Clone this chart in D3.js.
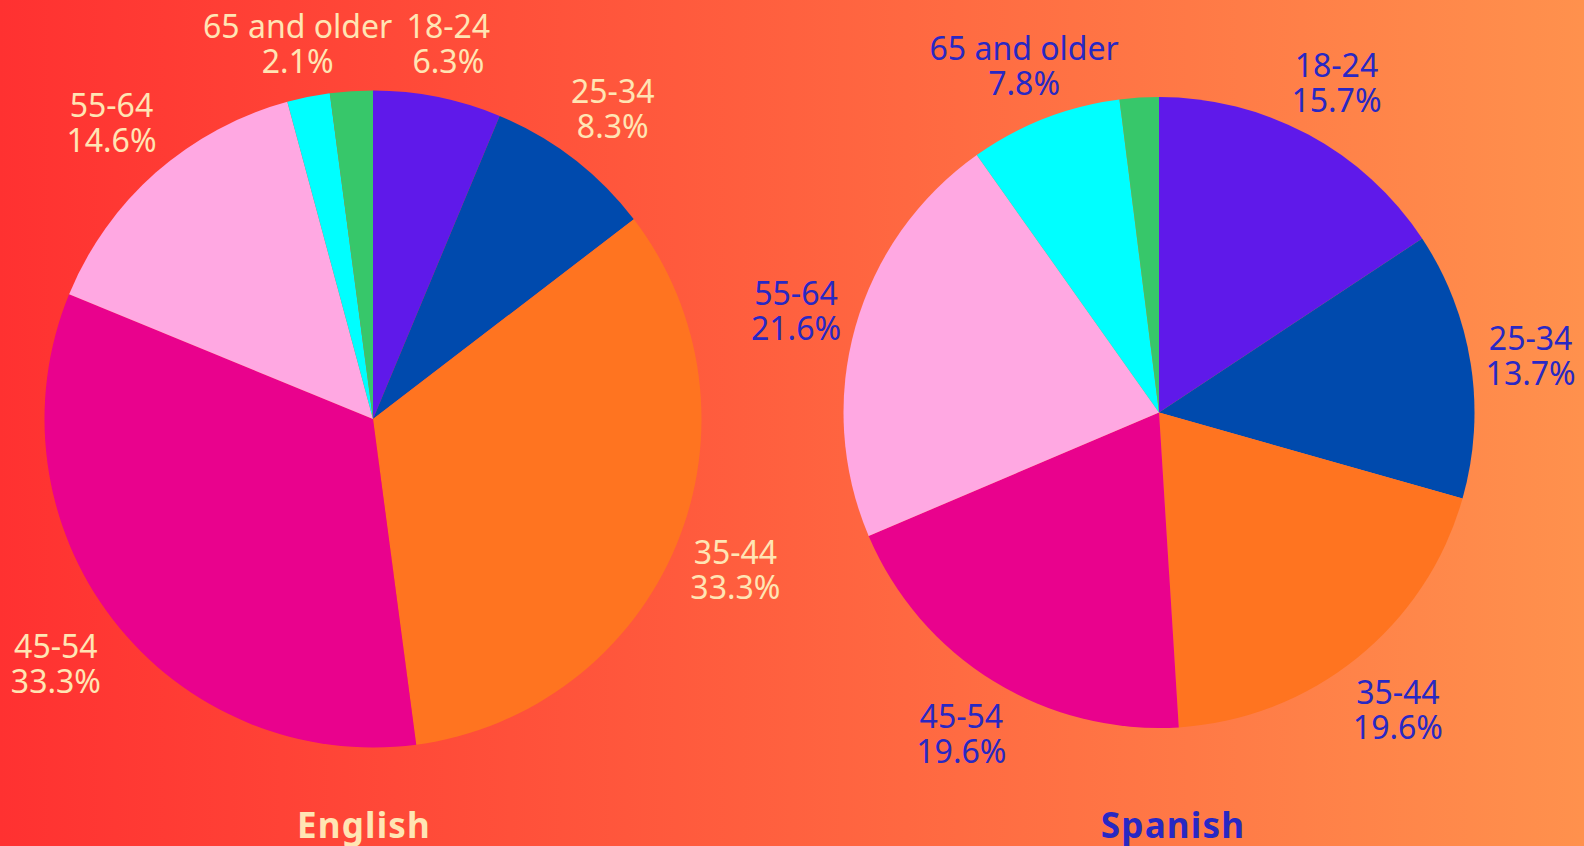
<!DOCTYPE html>
<html><head><meta charset="utf-8">
<script src="https://cdn.jsdelivr.net/npm/d3@7"></script>
<style>html,body{margin:0;padding:0;overflow:hidden;}svg{display:block;}</style>
</head><body>
<script>
const categories = ["18-24", "25-34", "35-44", "45-54", "55-64", "65 and older", "Other"];
const englishValues = [6.3, 8.3, 33.3, 33.3, 14.6, 2.1, 2.1];
const spanishValues = [15.7, 13.7, 19.6, 19.6, 21.6, 7.8, 2.0];
const sliceColors = ["#5f19ea", "#004aad", "#ff7420", "#e9028d", "#ffa8e2", "#00ffff", "#37c76a"];
const showLabel = [true, true, true, true, true, true, false];
const titles = ["English", "Spanish"];

const W = 1584, H = 846;
const svg = d3.select("body").append("svg").attr("width", W).attr("height", H);
const defs = svg.append("defs");
const grad = defs.append("linearGradient").attr("id", "bg").attr("x1", "0%").attr("x2", "100%").attr("y1", "0%").attr("y2", "0%");
grad.append("stop").attr("offset", "0%").attr("stop-color", "#ff3131");
grad.append("stop").attr("offset", "100%").attr("stop-color", "#ff914d");
svg.append("rect").attr("width", W).attr("height", H).attr("fill", "url(#bg)");

const color = d3.scaleOrdinal().domain(categories).range(sliceColors);

const pies = [
  {values: englishValues, cx: 373, cy: 419, r: 328.5, labelColor: "#ffe5b4", title: titles[0], tx: 364, ty: 838},
  {values: spanishValues, cx: 1159, cy: 412.5, r: 315.5, labelColor: "#2828c4", title: titles[1], tx: 1173, ty: 838}
];

const pie = d3.pie().sort(null).value(d => d.v);
const fontSize = 32, lineH = 35, gap = 15;

pies.forEach(p => {
  const data = categories.map((c, i) => ({c, v: p.values[i], i}));
  const arcs = pie(data);
  const g = svg.append("g").attr("transform", `translate(${p.cx},${p.cy})`);
  const arc = d3.arc().innerRadius(0).outerRadius(p.r);
  g.selectAll("path").data(arcs).join("path")
    .attr("d", arc).attr("fill", d => color(d.data.c));

  arcs.forEach(a => {
    if (!showLabel[a.data.i]) return;
    const mid = (a.startAngle + a.endAngle) / 2;
    const sx = Math.sin(mid), sy = -Math.cos(mid);
    const lines = [a.data.c, d3.format(".1f")(a.data.v) + "%"];
    const t = g.append("text")
      .attr("font-family", "'Noto Sans', sans-serif")
      .attr("font-size", fontSize)
      .attr("fill", p.labelColor)
      .attr("text-anchor", "middle");
    lines.forEach((l, k) => t.append("tspan").attr("x", 0).attr("y", k * lineH).text(l));
    const bb = t.node().getBBox();
    const hw = bb.width / 2, hh = bb.height / 2;
    const ext = Math.min(Math.abs(sx) > 1e-6 ? hw / Math.abs(sx) : Infinity,
                         Math.abs(sy) > 1e-6 ? hh / Math.abs(sy) : Infinity);
    const d = p.r + gap + ext;
    const bx = d * sx, by = d * sy;
    const cyOff = bb.y + hh;
    t.attr("transform", `translate(${bx},${by - cyOff})`);
  });

  svg.append("text").attr("x", p.tx).attr("y", p.ty)
    .attr("text-anchor", "middle")
    .attr("font-family", "'Noto Sans', sans-serif")
    .attr("font-weight", "bold").attr("font-size", 35)
    .attr("letter-spacing", 1.2)
    .attr("fill", p.labelColor).text(p.title);
});
</script>
</body></html>
